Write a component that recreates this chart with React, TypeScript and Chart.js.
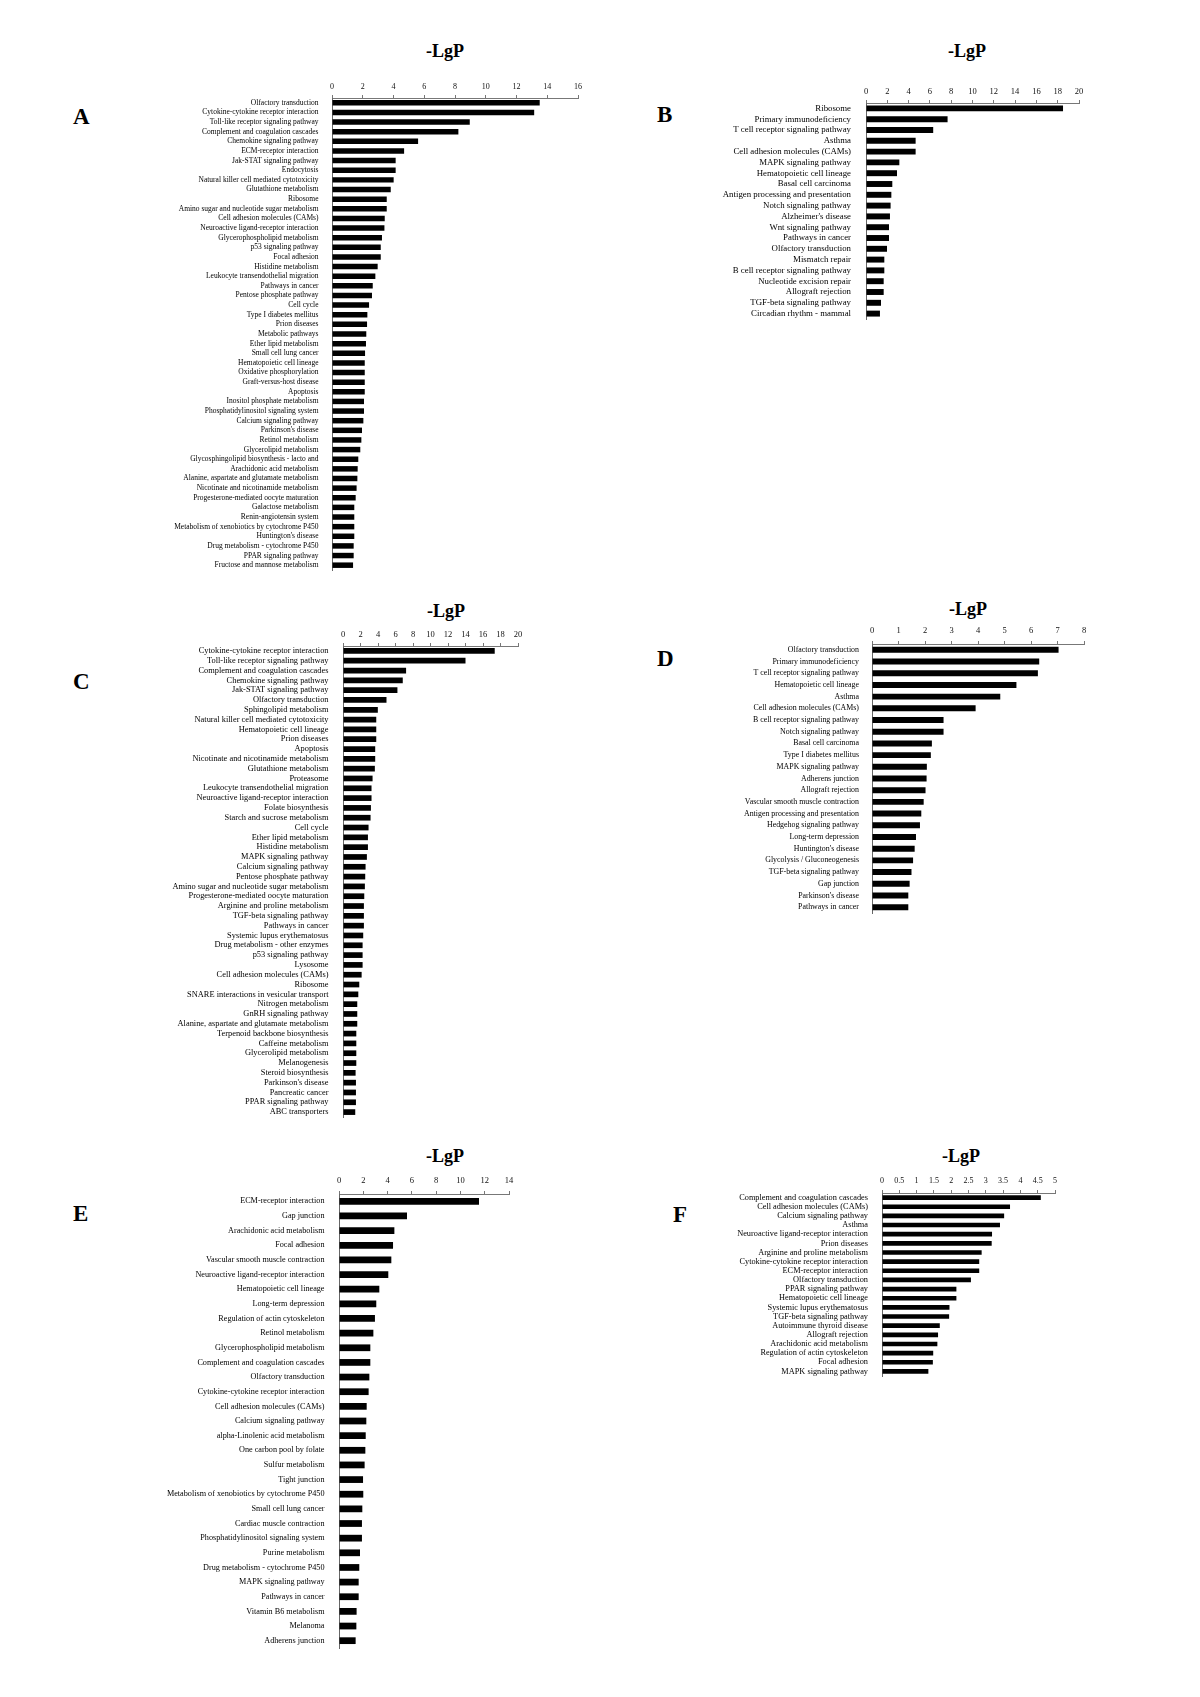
import React, { useEffect, useRef } from 'react';
import { Chart, registerables } from 'chart.js';

Chart.register(...registerables);

const FONT = "'Liberation Serif', 'Times New Roman', serif";

// ---------------- Panel A ----------------
const aCategories = [
  'Olfactory transduction', 'Cytokine-cytokine receptor interaction', 'Toll-like receptor signaling pathway',
  'Complement and coagulation cascades', 'Chemokine signaling pathway', 'ECM-receptor interaction',
  'Jak-STAT signaling pathway', 'Endocytosis', 'Natural killer cell mediated cytotoxicity',
  'Glutathione metabolism', 'Ribosome', 'Amino sugar and nucleotide sugar metabolism',
  'Cell adhesion molecules (CAMs)', 'Neuroactive ligand-receptor interaction', 'Glycerophospholipid metabolism',
  'p53 signaling pathway', 'Focal adhesion', 'Histidine metabolism', 'Leukocyte transendothelial migration',
  'Pathways in cancer', 'Pentose phosphate pathway', 'Cell cycle', 'Type I diabetes mellitus',
  'Prion diseases', 'Metabolic pathways', 'Ether lipid metabolism', 'Small cell lung cancer',
  'Hematopoietic cell lineage', 'Oxidative phosphorylation', 'Graft-versus-host disease', 'Apoptosis',
  'Inositol phosphate metabolism', 'Phosphatidylinositol signaling system', 'Calcium signaling pathway',
  "Parkinson's disease", 'Retinol metabolism', 'Glycerolipid metabolism',
  'Glycosphingolipid biosynthesis - lacto and', 'Arachidonic acid metabolism',
  'Alanine, aspartate and glutamate metabolism', 'Nicotinate and nicotinamide metabolism',
  'Progesterone-mediated oocyte maturation', 'Galactose metabolism', 'Renin-angiotensin system',
  'Metabolism of xenobiotics by cytochrome P450', "Huntington's disease", 'Drug metabolism - cytochrome P450',
  'PPAR signaling pathway', 'Fructose and mannose metabolism',
];
const aValues = [
  13.51, 13.15, 8.96, 8.22, 5.6, 4.69, 4.14, 4.14, 4.01, 3.82, 3.56, 3.56, 3.43, 3.41, 3.25, 3.17, 3.17,
  2.97, 2.82, 2.65, 2.6, 2.41, 2.3, 2.28, 2.23, 2.21, 2.15, 2.13, 2.13, 2.13, 2.13, 2.08, 2.08, 2.04,
  1.95, 1.91, 1.84, 1.71, 1.67, 1.65, 1.6, 1.54, 1.45, 1.45, 1.45, 1.45, 1.41, 1.41, 1.37,
];
const aMax = 16;
const aStep = 2;

// ---------------- Panel B ----------------
const bCategories = [
  'Ribosome', 'Primary immunodeficiency', 'T cell receptor signaling pathway', 'Asthma',
  'Cell adhesion molecules (CAMs)', 'MAPK signaling pathway', 'Hematopoietic cell lineage',
  'Basal cell carcinoma', 'Antigen processing and presentation', 'Notch signaling pathway',
  "Alzheimer's disease", 'Wnt signaling pathway', 'Pathways in cancer', 'Olfactory transduction',
  'Mismatch repair', 'B cell receptor signaling pathway', 'Nucleotide excision repair',
  'Allograft rejection', 'TGF-beta signaling pathway', 'Circadian rhythm - mammal',
];
const bValues = [
  18.5, 7.66, 6.31, 4.66, 4.66, 3.13, 2.91, 2.47, 2.38, 2.31, 2.25, 2.16, 2.16, 1.97, 1.72, 1.72,
  1.66, 1.66, 1.41, 1.31,
];
const bMax = 20;
const bStep = 2;

// ---------------- Panel C ----------------
const cCategories = [
  'Cytokine-cytokine receptor interaction', 'Toll-like receptor signaling pathway',
  'Complement and coagulation cascades', 'Chemokine signaling pathway', 'Jak-STAT signaling pathway',
  'Olfactory transduction', 'Sphingolipid metabolism', 'Natural killer cell mediated cytotoxicity',
  'Hematopoietic cell lineage', 'Prion diseases', 'Apoptosis', 'Nicotinate and nicotinamide metabolism',
  'Glutathione metabolism', 'Proteasome', 'Leukocyte transendothelial migration',
  'Neuroactive ligand-receptor interaction', 'Folate biosynthesis', 'Starch and sucrose metabolism',
  'Cell cycle', 'Ether lipid metabolism', 'Histidine metabolism', 'MAPK signaling pathway',
  'Calcium signaling pathway', 'Pentose phosphate pathway', 'Amino sugar and nucleotide sugar metabolism',
  'Progesterone-mediated oocyte maturation', 'Arginine and proline metabolism', 'TGF-beta signaling pathway',
  'Pathways in cancer', 'Systemic lupus erythematosus', 'Drug metabolism - other enzymes',
  'p53 signaling pathway', 'Lysosome', 'Cell adhesion molecules (CAMs)', 'Ribosome',
  'SNARE interactions in vesicular transport', 'Nitrogen metabolism', 'GnRH signaling pathway',
  'Alanine, aspartate and glutamate metabolism', 'Terpenoid backbone biosynthesis', 'Caffeine metabolism',
  'Glycerolipid metabolism', 'Melanogenesis', 'Steroid biosynthesis', "Parkinson's disease",
  'Pancreatic cancer', 'PPAR signaling pathway', 'ABC transporters',
];
const cValues = [
  17.34, 14.0, 7.21, 6.83, 6.22, 4.97, 3.98, 3.8, 3.8, 3.8, 3.68, 3.68, 3.64, 3.38, 3.26, 3.26, 3.19,
  3.15, 2.92, 2.85, 2.85, 2.73, 2.58, 2.54, 2.5, 2.43, 2.39, 2.39, 2.39, 2.31, 2.24, 2.24, 2.24, 2.13,
  1.86, 1.75, 1.63, 1.63, 1.63, 1.52, 1.52, 1.52, 1.52, 1.44, 1.48, 1.48, 1.48, 1.4,
];
const cMax = 20;
const cStep = 2;

// ---------------- Panel D ----------------
const dCategories = [
  'Olfactory transduction', 'Primary immunodeficiency', 'T cell receptor signaling pathway',
  'Hematopoietic cell lineage', 'Asthma', 'Cell adhesion molecules (CAMs)', 'B cell receptor signaling pathway',
  'Notch signaling pathway', 'Basal cell carcinoma', 'Type I diabetes mellitus', 'MAPK signaling pathway',
  'Adherens junction', 'Allograft rejection', 'Vascular smooth muscle contraction',
  'Antigen processing and presentation', 'Hedgehog signaling pathway', 'Long-term depression',
  "Huntington's disease", 'Glycolysis / Gluconeogenesis', 'TGF-beta signaling pathway', 'Gap junction',
  "Parkinson's disease", 'Pathways in cancer',
];
const dValues = [
  7.04, 6.31, 6.26, 5.45, 4.84, 3.91, 2.7, 2.7, 2.26, 2.22, 2.07, 2.06, 2.02, 1.95, 1.86, 1.81, 1.66,
  1.61, 1.55, 1.49, 1.42, 1.37, 1.37,
];
const dMax = 8;
const dStep = 1;

// ---------------- Panel E ----------------
const eCategories = [
  'ECM-receptor interaction', 'Gap junction', 'Arachidonic acid metabolism', 'Focal adhesion',
  'Vascular smooth muscle contraction', 'Neuroactive ligand-receptor interaction', 'Hematopoietic cell lineage',
  'Long-term depression', 'Regulation of actin cytoskeleton', 'Retinol metabolism',
  'Glycerophospholipid metabolism', 'Complement and coagulation cascades', 'Olfactory transduction',
  'Cytokine-cytokine receptor interaction', 'Cell adhesion molecules (CAMs)', 'Calcium signaling pathway',
  'alpha-Linolenic acid metabolism', 'One carbon pool by folate', 'Sulfur metabolism', 'Tight junction',
  'Metabolism of xenobiotics by cytochrome P450', 'Small cell lung cancer', 'Cardiac muscle contraction',
  'Phosphatidylinositol signaling system', 'Purine metabolism', 'Drug metabolism - cytochrome P450',
  'MAPK signaling pathway', 'Pathways in cancer', 'Vitamin B6 metabolism', 'Melanoma', 'Adherens junction',
];
const eValues = [
  11.53, 5.6, 4.56, 4.45, 4.31, 4.06, 3.32, 3.07, 2.96, 2.83, 2.58, 2.58, 2.5, 2.44, 2.28, 2.25, 2.2,
  2.17, 2.11, 1.98, 2.0, 1.92, 1.89, 1.89, 1.73, 1.67, 1.62, 1.62, 1.45, 1.43, 1.37,
];
const eMax = 14;
const eStep = 2;

// ---------------- Panel F ----------------
const fCategories = [
  'Complement and coagulation cascades', 'Cell adhesion molecules (CAMs)', 'Calcium signaling pathway',
  'Asthma', 'Neuroactive ligand-receptor interaction', 'Prion diseases', 'Arginine and proline metabolism',
  'Cytokine-cytokine receptor interaction', 'ECM-receptor interaction', 'Olfactory transduction',
  'PPAR signaling pathway', 'Hematopoietic cell lineage', 'Systemic lupus erythematosus',
  'TGF-beta signaling pathway', 'Autoimmune thyroid disease', 'Allograft rejection',
  'Arachidonic acid metabolism', 'Regulation of actin cytoskeleton', 'Focal adhesion', 'MAPK signaling pathway',
];
const fValues = [
  4.59, 3.7, 3.53, 3.41, 3.18, 3.17, 2.88, 2.81, 2.81, 2.57, 2.15, 2.15, 1.95, 1.94, 1.67, 1.62, 1.6,
  1.48, 1.47, 1.34,
];
const fMax = 5;
const fStep = 0.5;

const TITLE_TEXT = '-LgP';

// ---------------- Layout ----------------
const Y_W = 190; // fixed width of category axis (labels)
const AX_H = 20; // fixed height of top value axis
const PAD_R = 14;
const PAD_B = 4;

type Panel = {
  letter: string;
  categories: string[];
  values: number[];
  max: number;
  step: number;
  left: number;
  top: number;
  w: number;
  h: number;
  labelSize: number;
  tickSize: number;
  labelPad: number;
  tickPad: number;
  barPct: number;
  titleX: number;
  titleTop: number;
  letterX: number;
  letterTop: number;
};

const panels: Panel[] = [
  { letter: 'A', categories: aCategories, values: aValues, max: aMax, step: aStep,
    left: 332, top: 98, w: 246, h: 472, labelSize: 7.5, tickSize: 8, labelPad: 5.5, tickPad: 3.5, barPct: 0.57,
    titleX: 445, titleTop: 42, letterX: 73, letterTop: 105 },
  { letter: 'B', categories: bCategories, values: bValues, max: bMax, step: bStep,
    left: 866, top: 103, w: 213, h: 216, labelSize: 8.8, tickSize: 8.5, labelPad: 7, tickPad: 3, barPct: 0.55,
    titleX: 967, titleTop: 42, letterX: 657, letterTop: 103 },
  { letter: 'C', categories: cCategories, values: cValues, max: cMax, step: cStep,
    left: 343, top: 646, w: 175, h: 471, labelSize: 8.4, tickSize: 8.5, labelPad: 6.5, tickPad: 3.5, barPct: 0.58,
    titleX: 446, titleTop: 602, letterX: 73, letterTop: 670 },
  { letter: 'D', categories: dCategories, values: dValues, max: dMax, step: dStep,
    left: 872, top: 644, w: 212, h: 269, labelSize: 7.9, tickSize: 8.5, labelPad: 5, tickPad: 5.5, barPct: 0.51,
    titleX: 968, titleTop: 600, letterX: 657, letterTop: 647 },
  { letter: 'E', categories: eCategories, values: eValues, max: eMax, step: eStep,
    left: 339, top: 1194, w: 170, h: 454, labelSize: 8.2, tickSize: 8.5, labelPad: 6.5, tickPad: 5.5, barPct: 0.46,
    titleX: 445, titleTop: 1147, letterX: 73, letterTop: 1202 },
  { letter: 'F', categories: fCategories, values: fValues, max: fMax, step: fStep,
    left: 882, top: 1193, w: 173, h: 183, labelSize: 8.3, tickSize: 8, labelPad: 6, tickPad: 4, barPct: 0.51,
    titleX: 961, titleTop: 1147, letterX: 673, letterTop: 1203 },
];

function BarPanel({ p }: { p: Panel }) {
  const ref = useRef<HTMLCanvasElement>(null);
  const cw = Y_W + p.w + PAD_R;
  const ch = AX_H + p.h + PAD_B;

  useEffect(() => {
    if (!ref.current) return;
    const chart = new Chart(ref.current, {
      type: 'bar',
      data: {
        labels: p.categories,
        datasets: [
          {
            data: p.values,
            backgroundColor: '#000000',
            borderWidth: 0,
            barPercentage: p.barPct,
            categoryPercentage: 1,
          },
        ],
      },
      options: {
        indexAxis: 'y',
        responsive: false,
        maintainAspectRatio: false,
        animation: false,
        devicePixelRatio: 1,
        layout: { padding: { left: 0, top: 0, right: PAD_R, bottom: PAD_B } },
        plugins: {
          legend: { display: false },
          tooltip: { enabled: false },
          title: { display: false },
        },
        scales: {
          x: {
            type: 'linear',
            position: 'top',
            min: 0,
            max: p.max,
            ticks: {
              stepSize: p.step,
              autoSkip: false,
              maxRotation: 0,
              color: '#111',
              padding: p.tickPad,
              font: { family: FONT, size: p.tickSize },
              callback: (v: any) => String(v),
            },
            grid: {
              display: true,
              drawOnChartArea: false,
              drawTicks: true,
              tickLength: 3,
              color: '#777',
            },
            border: { display: true, color: '#777', width: 1 },
            afterFit: (s: any) => {
              s.height = AX_H;
              s.paddingLeft = 0;
              s.paddingRight = 0;
            },
          },
          y: {
            type: 'category',
            ticks: {
              autoSkip: false,
              color: '#000',
              padding: p.labelPad,
              font: { family: FONT, size: p.labelSize },
            },
            grid: { display: false },
            border: { display: true, color: '#666', width: 1 },
            afterFit: (s: any) => {
              s.width = Y_W;
              s.paddingTop = 0;
              s.paddingBottom = 0;
            },
          },
        },
      },
    } as any);
    return () => chart.destroy();
  }, []);

  return (
    <canvas
      ref={ref}
      width={cw}
      height={ch}
      style={{
        position: 'absolute',
        left: p.left - Y_W,
        top: p.top - AX_H,
        width: cw,
        height: ch,
      }}
    />
  );
}

export default function App() {
  return (
    <div
      style={{
        position: 'absolute',
        left: 0,
        top: 0,
        width: 1200,
        height: 1697,
        background: '#ffffff',
        fontFamily: FONT,
      }}
    >
      {panels.map((p) => (
        <BarPanel key={p.letter} p={p} />
      ))}
      {panels.map((p) => (
        <div
          key={'t' + p.letter}
          style={{
            position: 'absolute',
            left: p.titleX - 50,
            top: p.titleTop,
            width: 100,
            textAlign: 'center',
            fontSize: 18,
            lineHeight: '18px',
            fontWeight: 'bold',
            color: '#000',
          }}
        >
          {TITLE_TEXT}
        </div>
      ))}
      {panels.map((p) => (
        <div
          key={'l' + p.letter}
          style={{
            position: 'absolute',
            left: p.letterX,
            top: p.letterTop,
            fontSize: 23,
            lineHeight: '23px',
            fontWeight: 'bold',
            color: '#000',
          }}
        >
          {p.letter}
        </div>
      ))}
    </div>
  );
}
